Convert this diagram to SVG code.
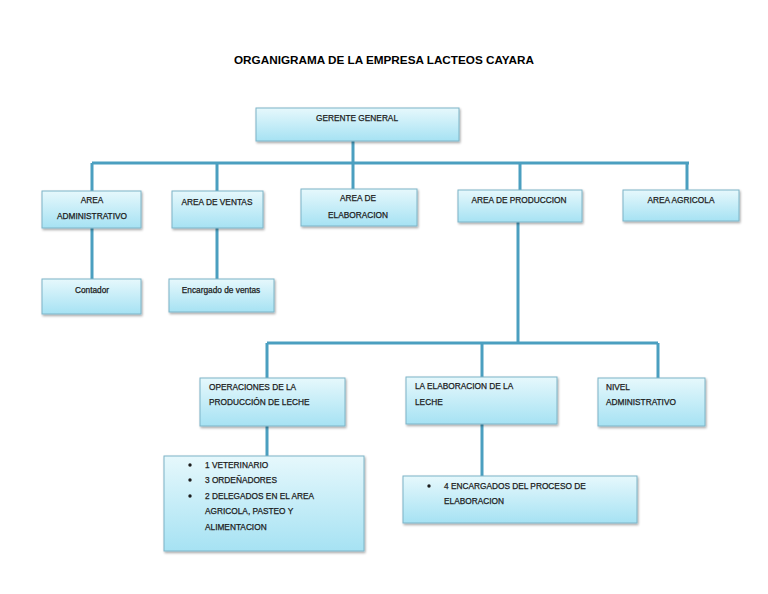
<svg xmlns="http://www.w3.org/2000/svg" width="768" height="594" viewBox="0 0 768 594">
<defs>
<linearGradient id="g" x1="0" y1="0" x2="0" y2="1">
<stop offset="0" stop-color="#e6f8fc"/>
<stop offset="1" stop-color="#a6e2f3"/>
</linearGradient>
<filter id="sh" x="-5%" y="-10%" width="115%" height="130%">
<feDropShadow dx="1" dy="1.5" stdDeviation="0.8" flood-color="#000" flood-opacity="0.35"/>
</filter>
</defs>
<style>
.box{fill:url(#g);stroke:#7db4c7;stroke-width:1;filter:url(#sh)}
.t{font-family:"Liberation Sans",Arial,sans-serif;font-size:8.3px;fill:#1c1c1c;stroke:#1c1c1c;stroke-width:0.25}
.c{text-anchor:middle}
.ln{stroke:#4b9fc0;stroke-width:3;fill:none}
.title{font-family:"Liberation Sans",Arial,sans-serif;font-size:11px;font-weight:bold;fill:#000;text-anchor:middle}
</style>
<rect width="768" height="594" fill="#fff"/>
<text class="title" x="384" y="64" textLength="300" lengthAdjust="spacingAndGlyphs">ORGANIGRAMA DE LA EMPRESA LACTEOS CAYARA</text>
<g id="connectors">
<path class="ln" d="M353 141V163M92 163H689M92 163V191M217 163V191M353 163V189M520 163V190M687 163V190"/>
<path class="ln" d="M92 228V279M217 228V279"/>
<path class="ln" d="M518 222V343M267 343H658M267 343V378M482 343V377M658 343V378"/>
<path class="ln" d="M267 426V456M482 424V476"/>
</g>
<g id="gerente"><rect class="box" x="256" y="108" width="203" height="33"/><text class="t c" x="357" y="121">GERENTE GENERAL</text></g>
<g id="admin"><rect class="box" x="42" y="191" width="99" height="37"/><text class="t c" x="92" y="203">AREA</text><text class="t c" x="92" y="219">ADMINISTRATIVO</text></g>
<g id="ventas"><rect class="box" x="172" y="191" width="91" height="37"/><text class="t c" x="217" y="205">AREA DE VENTAS</text></g>
<g id="elaboracion"><rect class="box" x="301" y="189" width="116" height="37"/><text class="t c" x="358" y="201">AREA DE</text><text class="t c" x="358" y="218">ELABORACION</text></g>
<g id="produccion"><rect class="box" x="458" y="190" width="124" height="32"/><text class="t c" x="519" y="203">AREA DE PRODUCCION</text></g>
<g id="agricola"><rect class="box" x="623" y="190" width="116" height="31"/><text class="t c" x="681" y="203">AREA AGRICOLA</text></g>
<g id="contador"><rect class="box" x="42" y="279" width="99" height="35"/><text class="t c" x="92" y="293">Contador</text></g>
<g id="encargado"><rect class="box" x="169" y="279" width="105" height="33"/><text class="t c" x="221" y="293">Encargado de ventas</text></g>
<g id="operaciones"><rect class="box" x="200" y="378" width="145" height="48"/><text class="t" x="209" y="390">OPERACIONES DE LA</text><text class="t" x="209" y="405">PRODUCCIÓN DE LECHE</text></g>
<g id="laelaboracion"><rect class="box" x="406" y="377" width="151" height="47"/><text class="t" x="415" y="389">LA ELABORACION DE LA</text><text class="t" x="415" y="405">LECHE</text></g>
<g id="nivel"><rect class="box" x="598" y="378" width="107" height="48"/><text class="t" x="606" y="390">NIVEL</text><text class="t" x="606" y="405">ADMINISTRATIVO</text></g>
<g id="lista1"><rect class="box" x="164" y="456" width="200" height="95"/>
<circle cx="190" cy="465" r="1.7" fill="#1c1c1c"/><text class="t" x="205" y="468">1 VETERINARIO</text>
<circle cx="190" cy="480" r="1.7" fill="#1c1c1c"/><text class="t" x="205" y="483">3 ORDEÑADORES</text>
<circle cx="190" cy="496" r="1.7" fill="#1c1c1c"/><text class="t" x="205" y="499">2 DELEGADOS EN EL AREA</text>
<text class="t" x="205" y="514">AGRICOLA, PASTEO Y</text>
<text class="t" x="205" y="530">ALIMENTACION</text></g>
<g id="lista2"><rect class="box" x="403" y="476" width="234" height="47"/>
<circle cx="429" cy="486" r="1.7" fill="#1c1c1c"/><text class="t" x="444" y="489">4 ENCARGADOS DEL PROCESO DE</text>
<text class="t" x="444" y="504">ELABORACION</text></g>
</svg>
